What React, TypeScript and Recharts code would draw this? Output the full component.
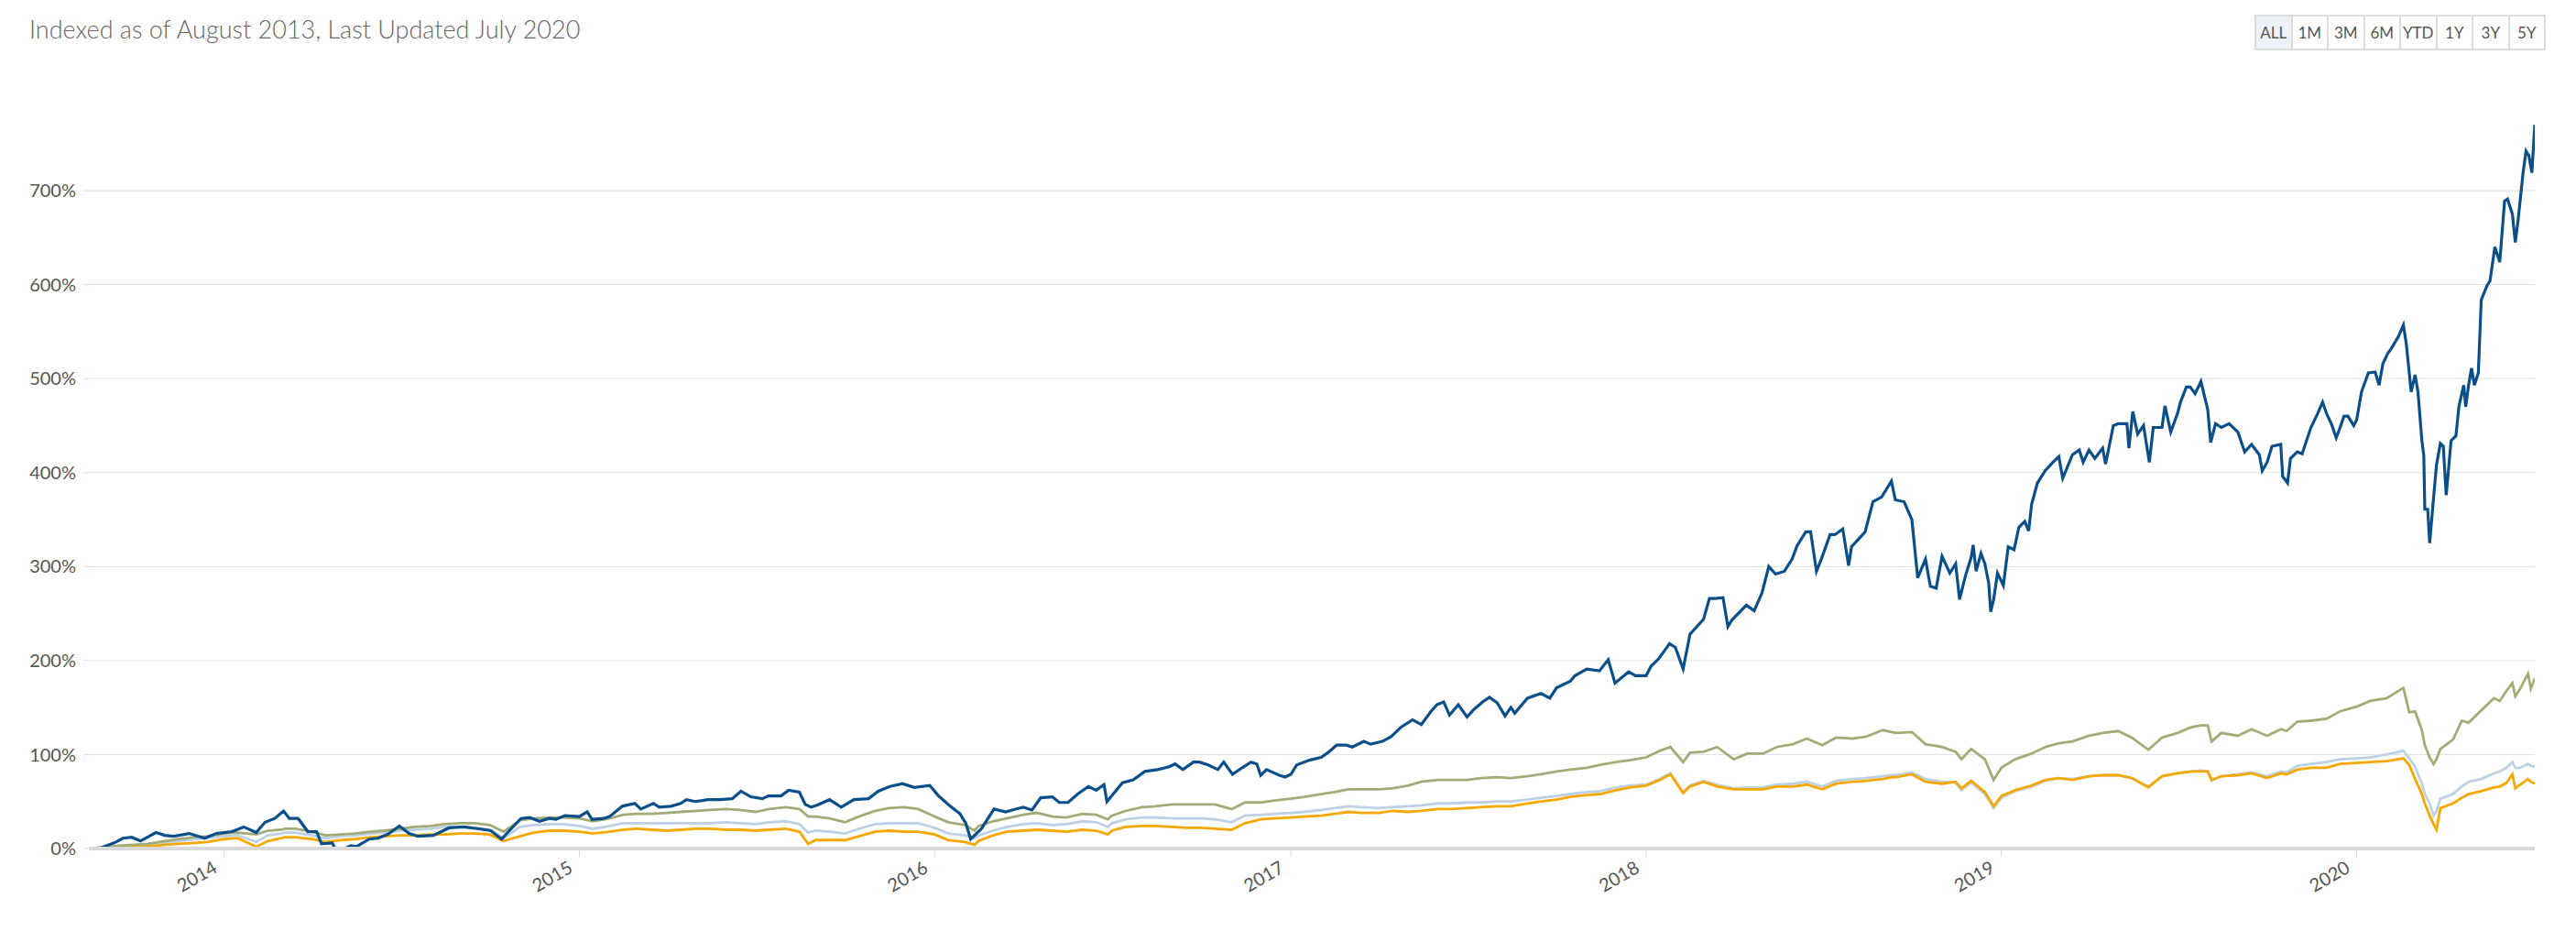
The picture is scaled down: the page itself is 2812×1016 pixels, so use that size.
import { CartesianGrid, Line, LineChart, XAxis, YAxis } from "recharts";

const FONT = "Lato, 'Open Sans', sans-serif";

// % growth since the index date

// navy line: the volatile one, sampled at its turning points
const navyDates = [
  "2013-08-15", "2013-08-28", "2013-09-10", "2013-09-19", "2013-09-28", "2013-10-07", "2013-10-23", "2013-11-01", "2013-11-10",
  "2013-11-26", "2013-12-12", "2013-12-24",
  "2014-01-09", "2014-01-21", "2014-02-03", "2014-02-12", "2014-02-22", "2014-03-03", "2014-03-09", "2014-03-18", "2014-03-28",
  "2014-04-06", "2014-04-11", "2014-04-22", "2014-04-25", "2014-05-05", "2014-05-11", "2014-05-17", "2014-05-30", "2014-06-08",
  "2014-06-18", "2014-06-30", "2014-07-10", "2014-07-19", "2014-08-04", "2014-08-20", "2014-09-04", "2014-09-20", "2014-10-02",
  "2014-10-13", "2014-10-21", "2014-11-02", "2014-11-11", "2014-11-21", "2014-12-01", "2014-12-08", "2014-12-17",
  "2015-01-01", "2015-01-09", "2015-01-14", "2015-01-26", "2015-02-01", "2015-02-14", "2015-02-27", "2015-03-05", "2015-03-18",
  "2015-03-24", "2015-04-05", "2015-04-15", "2015-04-21", "2015-04-30", "2015-05-13", "2015-05-25", "2015-06-07", "2015-06-16",
  "2015-06-26", "2015-07-08", "2015-07-14", "2015-07-27", "2015-08-04", "2015-08-15", "2015-08-21", "2015-08-27", "2015-09-02",
  "2015-09-15", "2015-09-27", "2015-10-10", "2015-10-25", "2015-11-04", "2015-11-16", "2015-11-29", "2015-12-11", "2015-12-27",
  "2016-01-05", "2016-01-17", "2016-01-27", "2016-02-02", "2016-02-07", "2016-02-18", "2016-03-02", "2016-03-14", "2016-03-24",
  "2016-04-01", "2016-04-10", "2016-04-19", "2016-05-01", "2016-05-08", "2016-05-17", "2016-05-27", "2016-06-07", "2016-06-15",
  "2016-06-23", "2016-06-26", "2016-07-04", "2016-07-12", "2016-07-23", "2016-08-04", "2016-08-17", "2016-08-29", "2016-09-04",
  "2016-09-12", "2016-09-23", "2016-09-29", "2016-10-08", "2016-10-18", "2016-10-24", "2016-11-02", "2016-11-12", "2016-11-21",
  "2016-11-27", "2016-12-01", "2016-12-07", "2016-12-20", "2016-12-26",
  "2017-01-01", "2017-01-07", "2017-01-20", "2017-02-01", "2017-02-08", "2017-02-17", "2017-02-27", "2017-03-05", "2017-03-17",
  "2017-03-24", "2017-04-05", "2017-04-14", "2017-04-24", "2017-05-06", "2017-05-15", "2017-05-25", "2017-05-31", "2017-06-07",
  "2017-06-13", "2017-06-22", "2017-07-01", "2017-07-08", "2017-07-17", "2017-07-24", "2017-08-01", "2017-08-09", "2017-08-15",
  "2017-08-19", "2017-09-01", "2017-09-15", "2017-09-24", "2017-10-01", "2017-10-15", "2017-10-20", "2017-11-01", "2017-11-14",
  "2017-11-23", "2017-11-30", "2017-12-14", "2017-12-21",
  "2018-01-01", "2018-01-06", "2018-01-14", "2018-01-25", "2018-01-31", "2018-02-08", "2018-02-15", "2018-03-01", "2018-03-07",
  "2018-03-13", "2018-03-21", "2018-03-26", "2018-03-30", "2018-04-14", "2018-04-22", "2018-04-30", "2018-05-07", "2018-05-14",
  "2018-05-23", "2018-05-31", "2018-06-05", "2018-06-14", "2018-06-19", "2018-06-25", "2018-06-30", "2018-07-09", "2018-07-14",
  "2018-07-22", "2018-07-28", "2018-07-31", "2018-08-14", "2018-08-22", "2018-08-31", "2018-09-10", "2018-09-14", "2018-09-23",
  "2018-10-01", "2018-10-07", "2018-10-15", "2018-10-20", "2018-10-26", "2018-11-01", "2018-11-09", "2018-11-15", "2018-11-19",
  "2018-11-25", "2018-12-01", "2018-12-03", "2018-12-06", "2018-12-11", "2018-12-15", "2018-12-19", "2018-12-21", "2018-12-24",
  "2018-12-28",
  "2019-01-03", "2019-01-08", "2019-01-14", "2019-01-19", "2019-01-25", "2019-01-29", "2019-02-01", "2019-02-07", "2019-02-15",
  "2019-02-23", "2019-03-01", "2019-03-05", "2019-03-15", "2019-03-22", "2019-03-26", "2019-04-01", "2019-04-07", "2019-04-15",
  "2019-04-18", "2019-04-26", "2019-05-01", "2019-05-10", "2019-05-12", "2019-05-16", "2019-05-21", "2019-05-27", "2019-06-02",
  "2019-06-06", "2019-06-15", "2019-06-18", "2019-06-24", "2019-07-01", "2019-07-04", "2019-07-10", "2019-07-14", "2019-07-19",
  "2019-07-25", "2019-08-01", "2019-08-04", "2019-08-09", "2019-08-15", "2019-08-23", "2019-09-01", "2019-09-08", "2019-09-15",
  "2019-09-23", "2019-09-26", "2019-10-01", "2019-10-06", "2019-10-15", "2019-10-17", "2019-10-22", "2019-10-25", "2019-11-01",
  "2019-11-06", "2019-11-15", "2019-11-22", "2019-11-27", "2019-12-01", "2019-12-06", "2019-12-11", "2019-12-15", "2019-12-19",
  "2019-12-23", "2019-12-29",
  "2020-01-01", "2020-01-06", "2020-01-13", "2020-01-20", "2020-01-24", "2020-01-28", "2020-02-02", "2020-02-05", "2020-02-13",
  "2020-02-18", "2020-02-21", "2020-02-26", "2020-03-01", "2020-03-04", "2020-03-08", "2020-03-10", "2020-03-11", "2020-03-14",
  "2020-03-16", "2020-03-19", "2020-03-23", "2020-03-27", "2020-03-30", "2020-04-02", "2020-04-07", "2020-04-12", "2020-04-15",
  "2020-04-20", "2020-04-22", "2020-04-25", "2020-04-28", "2020-05-01", "2020-05-05", "2020-05-08", "2020-05-14", "2020-05-17",
  "2020-05-22", "2020-05-27", "2020-06-01", "2020-06-04", "2020-06-09", "2020-06-12", "2020-06-15", "2020-06-20", "2020-06-23",
  "2020-06-26", "2020-06-29", "2020-07-02",
];

const navy = [
  0, 1, 6, 11, 12, 8, 17, 14, 13, 16, 11, 16,
  18, 23, 17, 28, 32, 40, 32, 32, 18, 18, 5, 6, 0, 0, 3, 2, 10, 11, 15, 24, 16, 13, 14, 22, 23, 21, 19, 10, 19, 32, 33, 29, 32, 31, 35,
  34, 39, 31, 32, 34, 45, 48, 42, 48, 44, 45, 48, 52, 50, 52, 52, 53, 61, 55, 53, 56, 56, 62, 60, 47, 44, 46, 52, 44, 52, 53, 61, 66, 69, 65, 67,
  56, 45, 37, 27, 10, 21, 42, 39, 42, 44, 41, 54, 55, 49, 49, 58, 66, 62, 68, 50, 60, 70, 73, 82, 84, 87, 90, 84, 92, 92, 89, 84, 92, 79, 86, 92, 90, 78, 84, 78, 76,
  79, 89, 94, 97, 102, 110, 110, 108, 114, 111, 114, 119, 129, 137, 132, 146, 153, 156, 142, 153, 140, 148, 156, 161, 155, 141, 150, 144, 160, 165,
  160, 171, 178, 184, 191, 189, 201, 176, 188, 184,
  184, 194, 202, 218, 214, 191, 228, 244, 266, 266, 267, 236, 243, 259, 253, 272, 300, 292, 295, 308, 322, 337, 337, 295, 308, 334, 334, 340,
  301, 321, 337, 369, 374, 391, 371, 369, 350, 288, 308, 279, 277, 311, 293, 303, 265, 290, 310, 323, 295, 314, 303, 282, 252, 265, 293,
  280, 321, 318, 342, 348, 338, 366, 389, 402, 411, 417, 394, 419, 424, 411, 424, 415, 426, 409, 450, 452, 452, 426, 465, 441, 450, 411, 448,
  448, 471, 443, 463, 475, 491, 491, 484, 497, 467, 432, 452, 448, 452, 443, 422, 430, 419, 402, 411, 428, 430, 396, 389, 415, 422, 420, 448,
  463, 475, 463, 452, 437, 448, 460, 460, 450,
  456, 486, 506, 507, 493, 516, 527, 531, 545, 557, 537, 486, 504, 486, 434, 418, 361, 361, 325, 361, 408, 431, 428, 376, 434, 439, 470, 493,
  470, 493, 511, 493, 506, 584, 599, 604, 640, 624, 689, 691, 675, 645, 670, 719, 742, 737, 719, 770,
];

// the three smoother lines share one semi-monthly grid
const benchDates = [
  "2013-08-15", "2013-09-01", "2013-09-15", "2013-10-01", "2013-10-15", "2013-11-01", "2013-11-15", "2013-12-01", "2013-12-15",
  "2014-01-01", "2014-01-15", "2014-02-03", "2014-02-15", "2014-03-01", "2014-03-04", "2014-03-15", "2014-04-01", "2014-04-15",
  "2014-05-01", "2014-05-15", "2014-06-01", "2014-06-15", "2014-07-01", "2014-07-15", "2014-08-01", "2014-08-15", "2014-09-01",
  "2014-09-15", "2014-10-01", "2014-10-15", "2014-11-01", "2014-11-15", "2014-12-01", "2014-12-15",
  "2015-01-01", "2015-01-15", "2015-02-01", "2015-02-15", "2015-03-01", "2015-03-15", "2015-04-01", "2015-04-15", "2015-05-01",
  "2015-05-15", "2015-06-01", "2015-06-15", "2015-07-01", "2015-07-15", "2015-08-01", "2015-08-15", "2015-08-24", "2015-09-01",
  "2015-09-15", "2015-10-01", "2015-10-15", "2015-11-01", "2015-11-15", "2015-12-01", "2015-12-15",
  "2016-01-01", "2016-01-15", "2016-02-01", "2016-02-11", "2016-02-15", "2016-03-01", "2016-03-15", "2016-04-01", "2016-04-15",
  "2016-05-01", "2016-05-15", "2016-06-01", "2016-06-15", "2016-06-27", "2016-07-01", "2016-07-15", "2016-08-01", "2016-08-15",
  "2016-09-01", "2016-09-15", "2016-10-01", "2016-10-15", "2016-11-01", "2016-11-15", "2016-12-01", "2016-12-15",
  "2017-01-01", "2017-01-15", "2017-02-01", "2017-02-15", "2017-03-01", "2017-03-15", "2017-04-01", "2017-04-15", "2017-05-01",
  "2017-05-15", "2017-06-01", "2017-06-15", "2017-07-01", "2017-07-15", "2017-08-01", "2017-08-15", "2017-09-01", "2017-09-15",
  "2017-10-01", "2017-10-15", "2017-11-01", "2017-11-15", "2017-12-01", "2017-12-15",
  "2018-01-01", "2018-01-15", "2018-01-26", "2018-02-08", "2018-02-15", "2018-03-01", "2018-03-15", "2018-04-01", "2018-04-15",
  "2018-05-01", "2018-05-15", "2018-06-01", "2018-06-15", "2018-07-01", "2018-07-15", "2018-08-01", "2018-08-15", "2018-09-01",
  "2018-09-10", "2018-09-15", "2018-10-01", "2018-10-15", "2018-11-01", "2018-11-15", "2018-11-21", "2018-12-01", "2018-12-15",
  "2018-12-24",
  "2019-01-01", "2019-01-15", "2019-02-01", "2019-02-15", "2019-03-01", "2019-03-15", "2019-04-01", "2019-04-15", "2019-05-01",
  "2019-05-15", "2019-06-01", "2019-06-15", "2019-07-01", "2019-07-15", "2019-07-25", "2019-08-01", "2019-08-05", "2019-08-15",
  "2019-09-01", "2019-09-15", "2019-10-01", "2019-10-15", "2019-10-21", "2019-11-01", "2019-11-15", "2019-12-01", "2019-12-15",
  "2020-01-01", "2020-01-15", "2020-02-01", "2020-02-18", "2020-02-24", "2020-03-01", "2020-03-08", "2020-03-11", "2020-03-16",
  "2020-03-20", "2020-03-23", "2020-03-27", "2020-04-09", "2020-04-18", "2020-04-25", "2020-05-08", "2020-05-21", "2020-05-27",
  "2020-06-03", "2020-06-09", "2020-06-12", "2020-06-17", "2020-06-25", "2020-06-28", "2020-07-02",
];

const olive = [
  0, 1, 3, 4, 5, 8, 10, 12, 13,
  16, 17, 15, 19, 20, 21, 21, 18, 14, 15, 16, 18, 19, 21, 23, 24, 26, 27, 27, 25, 18, 30, 32, 33, 33,
  32, 29, 32, 36, 37, 37, 38, 39, 40, 41, 42, 41, 39, 42, 44, 42, 34, 34, 32, 28, 34, 40, 43, 44, 42,
  34, 28, 25, 19, 24, 29, 32, 36, 38, 34, 33, 37, 36, 31, 35, 40, 44, 45, 47, 47, 47, 47, 42, 49, 49, 51,
  53, 55, 58, 60, 63, 63, 63, 64, 67, 71, 73, 73, 73, 75, 76, 75, 77, 79, 82, 84, 86, 89, 92, 94,
  97, 104, 108, 92, 102, 103, 108, 95, 101, 101, 108, 111, 117, 110, 118, 117, 119, 126, 124, 123, 124, 111, 108, 103, 95, 106, 95, 73,
  86, 95, 101, 108, 112, 114, 120, 123, 125, 118, 105, 118, 123, 129, 131, 131, 114, 123, 120, 127, 120, 127, 125, 135, 136, 138, 146,
  151, 157, 160, 171, 145, 146, 126, 110, 97, 90, 95, 106, 116, 136, 134, 147, 160, 157, 168, 176, 162, 170, 186, 170, 181,
];

const sky = [
  0, 1, 2, 3, 4, 6, 8, 10, 11,
  13, 14, 7, 14, 16, 17, 17, 14, 11, 13, 14, 16, 17, 19, 20, 21, 23, 23, 22, 20, 11, 23, 25, 26, 26,
  24, 21, 24, 27, 27, 27, 27, 27, 27, 27, 28, 27, 26, 28, 29, 26, 17, 19, 18, 16, 21, 26, 27, 27, 27,
  22, 16, 14, 11, 14, 19, 23, 26, 27, 25, 26, 29, 28, 23, 27, 31, 33, 33, 32, 32, 32, 31, 28, 35, 36, 37,
  38, 39, 41, 43, 45, 44, 43, 44, 45, 46, 48, 48, 49, 49, 50, 50, 52, 54, 56, 58, 60, 61, 65, 67,
  68, 74, 80, 60, 67, 72, 68, 64, 65, 65, 68, 69, 71, 66, 72, 74, 75, 77, 78, 78, 81, 74, 71, 70, 62, 70, 58, 43,
  54, 61, 66, 72, 75, 74, 77, 78, 78, 75, 66, 77, 80, 82, 83, 82, 72, 77, 79, 81, 77, 82, 81, 88, 90, 92, 95,
  96, 97, 100, 104, 96, 87, 69, 58, 48, 35, 40, 53, 58, 66, 71, 74, 80, 82, 86, 92, 86, 86, 90, 88, 87,
];

const amber = [
  0, 0, 3, 2, 2, 4, 5, 6, 7,
  10, 11, 2, 8, 11, 12, 12, 10, 7, 9, 10, 12, 13, 14, 14, 15, 15, 16, 16, 15, 8, 13, 17, 19, 19,
  18, 16, 18, 20, 21, 20, 19, 20, 21, 21, 20, 20, 19, 20, 21, 18, 5, 9, 9, 9, 13, 18, 19, 18, 18,
  15, 9, 7, 4, 8, 14, 18, 19, 20, 19, 18, 20, 19, 15, 19, 23, 24, 24, 23, 22, 22, 21, 20, 27, 31, 32,
  33, 34, 35, 37, 39, 38, 38, 40, 39, 40, 42, 42, 43, 44, 45, 45, 48, 50, 52, 55, 57, 58, 62, 65,
  67, 73, 79, 59, 66, 71, 66, 63, 63, 63, 66, 66, 68, 63, 69, 71, 72, 74, 76, 76, 79, 71, 69, 71, 64, 72, 60, 45,
  56, 62, 67, 73, 75, 73, 77, 78, 78, 75, 65, 77, 80, 82, 82, 82, 73, 77, 78, 80, 75, 80, 79, 84, 86, 86, 90,
  91, 92, 93, 96, 89, 74, 58, 48, 35, 26, 20, 43, 48, 54, 58, 61, 65, 66, 70, 79, 64, 68, 74, 71, 69,
];

const yearTicks = ["2014-01-01", "2015-01-01", "2016-01-01", "2017-01-01", "2018-01-01", "2019-01-01", "2020-01-01"];
const percentTicks = [0, 100, 200, 300, 400, 500, 600, 700];
const rangeButtons = ["ALL", "1M", "3M", "6M", "YTD", "1Y", "3Y", "5Y"];

const toTime = (d: string) => Date.parse(`${d}T00:00:00Z`);

const navyRows = navyDates.map((d, i) => ({ t: toTime(d), navy: navy[i] }));
const benchRows = benchDates.map((d, i) => ({ t: toTime(d), olive: olive[i], sky: sky[i], amber: amber[i] }));

function YearTick({ x, y, payload }: { x?: number; y?: number; payload?: { value: number } }) {
  const ax = (x ?? 0) - 6;
  const ay = (y ?? 0) + 14;
  return (
    <text
      x={ax}
      y={ay}
      transform={`rotate(-30 ${ax} ${ay})`}
      textAnchor="end"
      fill="#555"
      fontSize={20}
      fontFamily={FONT}
    >
      {new Date(payload?.value ?? 0).getUTCFullYear()}
    </text>
  );
}

function RangeButtons() {
  return (
    <div
      style={{
        position: "absolute",
        left: 2461,
        top: 16,
        display: "flex",
        border: "2px solid #dcdcdc",
        borderRight: "none",
        height: 35,
      }}
    >
      {rangeButtons.map((label, i) => (
        <div
          key={label}
          style={{
            width: 37.5,
            borderRight: "2px solid #dcdcdc",
            background: i === 0 ? "#edf1f8" : "#fff",
            color: "#555",
            fontFamily: FONT,
            fontSize: 17,
            lineHeight: "35px",
            textAlign: "center",
          }}
        >
          {label}
        </div>
      ))}
    </div>
  );
}

export default function App() {
  return (
    <div
      style={{
        position: "absolute",
        left: 0,
        top: 0,
        width: 2812,
        height: 1016,
        background: "#fff",
        overflow: "hidden",
      }}
    >
      <div
        style={{
          position: "absolute",
          left: 32,
          top: 17,
          fontFamily: FONT,
          fontWeight: 300,
          fontSize: 27,
          lineHeight: "30px",
          color: "#666",
          whiteSpace: "nowrap",
        }}
      >
        Indexed as of August 2013, Last Updated July 2020
      </div>
      <RangeButtons />
      <div style={{ position: "absolute", left: 0, top: 0 }}>
        <LineChart width={2812} height={1016} data={benchRows} margin={{ top: 126, right: 45, bottom: 0, left: 0 }}>
          <CartesianGrid vertical={false} stroke="#e0e0e0" syncWithTicks />
          <XAxis
            dataKey="t"
            type="number"
            domain={[toTime(navyDates[0]), toTime(navyDates[navyDates.length - 1])]}
            allowDataOverflow
            ticks={yearTicks.map(toTime)}
            interval={0}
            height={90}
            tickSize={9}
            axisLine={{ stroke: "#d9d9d9", strokeWidth: 4 }}
            tickLine={{ stroke: "#d9d9d9" }}
            tick={<YearTick />}
          />
          <YAxis
            type="number"
            width={97}
            domain={[0, 780]}
            allowDataOverflow
            ticks={percentTicks}
            interval={0}
            axisLine={false}
            tickLine={{ stroke: "#e0e0e0" }}
            tickSize={6}
            tickMargin={8}
            tick={{ fill: "#555", fontSize: 20, fontFamily: FONT }}
            tickFormatter={(v: number) => `${v}%`}
          />
          <Line type="linear" dataKey="sky" stroke="#bcd0e6" strokeWidth={2.8} dot={false} isAnimationActive={false} />
          <Line type="linear" dataKey="amber" stroke="#f6a800" strokeWidth={2.8} dot={false} isAnimationActive={false} />
          <Line type="linear" dataKey="olive" stroke="#a2ac76" strokeWidth={2.8} dot={false} isAnimationActive={false} />
          <Line
            type="linear"
            data={navyRows}
            dataKey="navy"
            stroke="#0b4f8a"
            strokeWidth={3.2}
            dot={false}
            isAnimationActive={false}
          />
        </LineChart>
      </div>
    </div>
  );
}
